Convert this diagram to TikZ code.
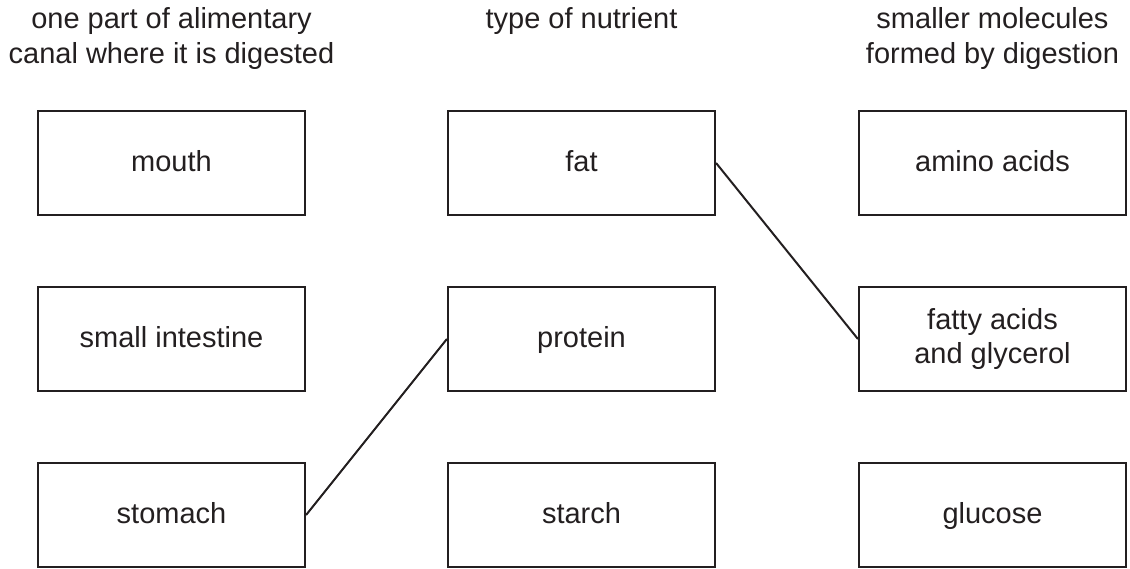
\documentclass[tikz,border=0pt]{standalone}
\usepackage{fontspec}
\setmainfont{Liberation Sans}
\definecolor{ink}{HTML}{231F20}
\begin{document}
\begin{tikzpicture}[x=1pt,y=-1pt,
  every node/.style={text=ink,font=\fontsize{29}{34}\selectfont},
  box/.style={draw=ink,line width=2.2pt,minimum width=267pt,minimum height=104pt,align=center,inner sep=0pt},
  oneline/.style={box,text height=21pt,text depth=4pt},
  head/.style={align=center,inner sep=0pt,anchor=north,font=\fontsize{29}{35}\selectfont},
  link/.style={draw=ink,line width=2pt}]
\useasboundingbox (0,0) rectangle (1130,568);
\node[head] (h1) at (171.5,7) {one part of alimentary\\canal where it is digested};
\node[head] (h2) at (581.5,7) {type of nutrient};
\node[head] (h3) at (992.5,7) {smaller molecules\\formed by digestion};
\node[oneline] (mouth) at (171.5,163) {mouth};
\node[oneline] (small) at (171.5,339) {small intestine};
\node[oneline] (stomach) at (171.5,515) {stomach};
\node[oneline] (fat) at (581.5,163) {fat};
\node[oneline] (protein) at (581.5,339) {protein};
\node[oneline] (starch) at (581.5,515) {starch};
\node[oneline] (amino) at (992.5,163) {amino acids};
\node[box] (fatty) at (992.5,339) {fatty acids\\and glycerol};
\node[oneline] (glucose) at (992.5,515) {glucose};
\draw[link] (fat.east) -- (fatty.west);
\draw[link] (stomach.east) -- (protein.west);
\end{tikzpicture}
\end{document}
